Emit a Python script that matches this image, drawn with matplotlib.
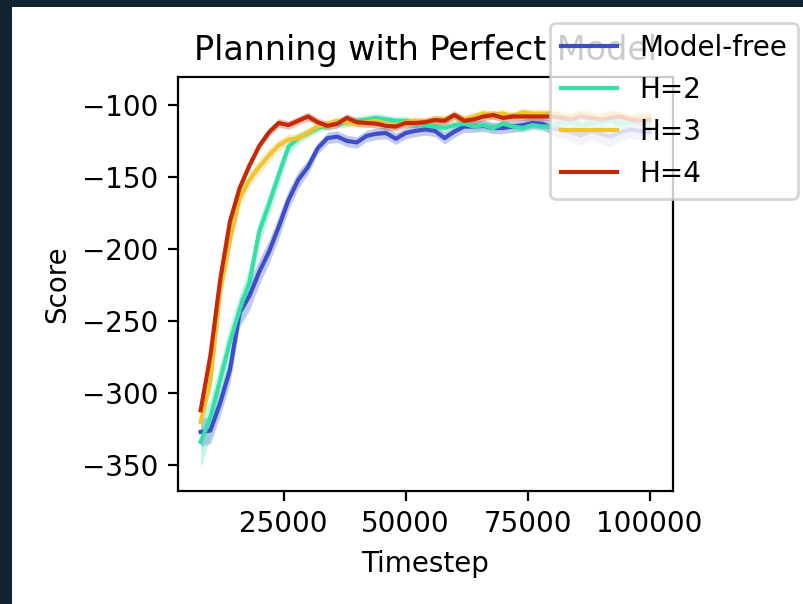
import numpy as np
import matplotlib
matplotlib.use("Agg")
import matplotlib.pyplot as plt
from matplotlib.patches import Rectangle

# ---------------- data ----------------
timesteps = np.arange(8000, 100001, 2000)  # 47 points

model_free = [-327, -326, -307, -284, -244, -232.6, -216, -202, -184.7, -166,
              -152, -143, -130, -123, -122, -125, -126, -121.5, -120, -119.5,
              -123.5, -119.5, -118, -117, -118, -123, -118.5, -115, -115, -114.5,
              -116, -116, -115, -114, -112.5, -113, -116,
              -117, -119, -121, -118, -120, -122, -119, -117, -118, -119]
model_free_std = [10, 9, 9, 9, 10, 10, 9, 8, 8, 7,
                  6, 5, 4, 4, 4, 4, 4, 4, 4, 4,
                  4, 4, 4, 4, 4, 4, 4, 4, 4, 4,
                  4, 4, 4, 4, 4, 4, 5,
                  6, 6, 7, 6, 7, 7, 6, 6, 6, 6]

h2 = [-334, -317, -291, -264.6, -242, -223, -188, -169, -148.6, -129,
      -123, -119.5, -116, -114, -113, -112, -111, -110, -109, -110,
      -111, -111, -113, -114, -115, -116, -114, -113, -115, -114,
      -116, -113, -115, -116, -114, -115, -115,
      -113, -112, -114, -113, -112, -111, -113, -112, -111, -112]
h2_std = [18, 13, 12, 12, 11, 10, 9, 8, 7, 5,
          4, 3, 3, 3, 3, 3, 3, 3, 3, 3,
          3, 3, 3, 3, 3, 3, 3, 3, 3, 3,
          3, 3, 3, 3, 3, 3, 3,
          3, 3, 3, 3, 3, 3, 3, 3, 3, 3]

h3 = [-320, -292, -230, -194, -164.5, -152, -143, -135, -128, -124,
      -123, -119, -115, -113, -111, -112, -113, -112, -111, -113,
      -114, -112, -111, -112, -110, -110, -108, -110, -108, -106,
      -107, -106, -108, -105, -106, -106, -106,
      -107, -108, -106, -107, -108, -106, -107, -109, -108, -108]
h3_std = [6, 6, 6, 6, 6, 5, 5, 5, 4, 4,
          3, 3, 3, 3, 3, 3, 3, 3, 3, 3,
          3, 3, 3, 3, 3, 3, 3, 3, 3, 3,
          3, 3, 3, 3, 3, 3, 3,
          3, 3, 3, 3, 3, 3, 3, 3, 3, 3]

h4 = [-312, -274, -221.5, -181, -157.6, -142, -128.5, -119, -112.5, -114,
      -111, -108, -112, -114.5, -113, -109, -112, -112.5, -113, -114.5,
      -115, -112.5, -112.5, -112, -110.5, -111, -107, -111, -110, -108,
      -107, -109, -108, -108, -108, -108, -108,
      -109, -110, -108, -109, -110, -109, -108, -110, -111, -110]
h4_std = [4, 4, 4, 3, 3, 3, 3, 3, 3, 3,
          3, 3, 3, 3, 3, 3, 3, 3, 3, 3,
          3, 3, 3, 3, 3, 3, 3, 3, 3, 3,
          3, 3, 3, 3, 3, 3, 3,
          3, 3, 3, 3, 3, 3, 3, 3, 3, 3]

labels = ["Model-free", "H=2", "H=3", "H=4"]
colors = ["#3c4ecb", "#34e0a8", "#f0c431", "#c42a06"]
series = [model_free, h2, h3, h4]
stds = [model_free_std, h2_std, h3_std, h4_std]

title = "Planning with Perfect Model"
xlabel = "Timestep"
ylabel = "Score"
xticks = [25000, 50000, 75000, 100000]
yticks = [-350, -300, -250, -200, -150, -100]

# ---------------- figure ----------------
DPI = 200
fig = plt.figure(figsize=(804 / DPI, 604 / DPI), dpi=DPI)
fig.patch.set_facecolor("#112231")
fig.add_artist(Rectangle((12 / 804, 0), 1 - 12 / 804, 1 - 7 / 604,
                         transform=fig.transFigure, facecolor="white",
                         edgecolor="none", zorder=-10))

ax = fig.add_axes([0.2214, 0.1871, 0.837 - 0.2214, 0.8725 - 0.1871])

for y, s, c, lab in zip(series, stds, colors, labels):
    y = np.asarray(y, dtype=float)
    s = np.asarray(s, dtype=float)
    ax.fill_between(timesteps, y - s, y + s, color=c, alpha=0.3, linewidth=0)
    ax.plot(timesteps, y, color=c, linewidth=1.5, label=lab)

ax.set_xlim(3360, 104800)
ax.set_ylim(-368, -80.6)
ax.set_xticks(xticks)
ax.set_yticks(yticks)
ax.set_title(title)
ax.set_xlabel(xlabel)
ax.set_ylabel(ylabel)

ax.legend(loc="upper right", bbox_to_anchor=(1.2525, 1.1304), borderaxespad=0)

fig.savefig("out.png", dpi=DPI, facecolor=fig.get_facecolor())
